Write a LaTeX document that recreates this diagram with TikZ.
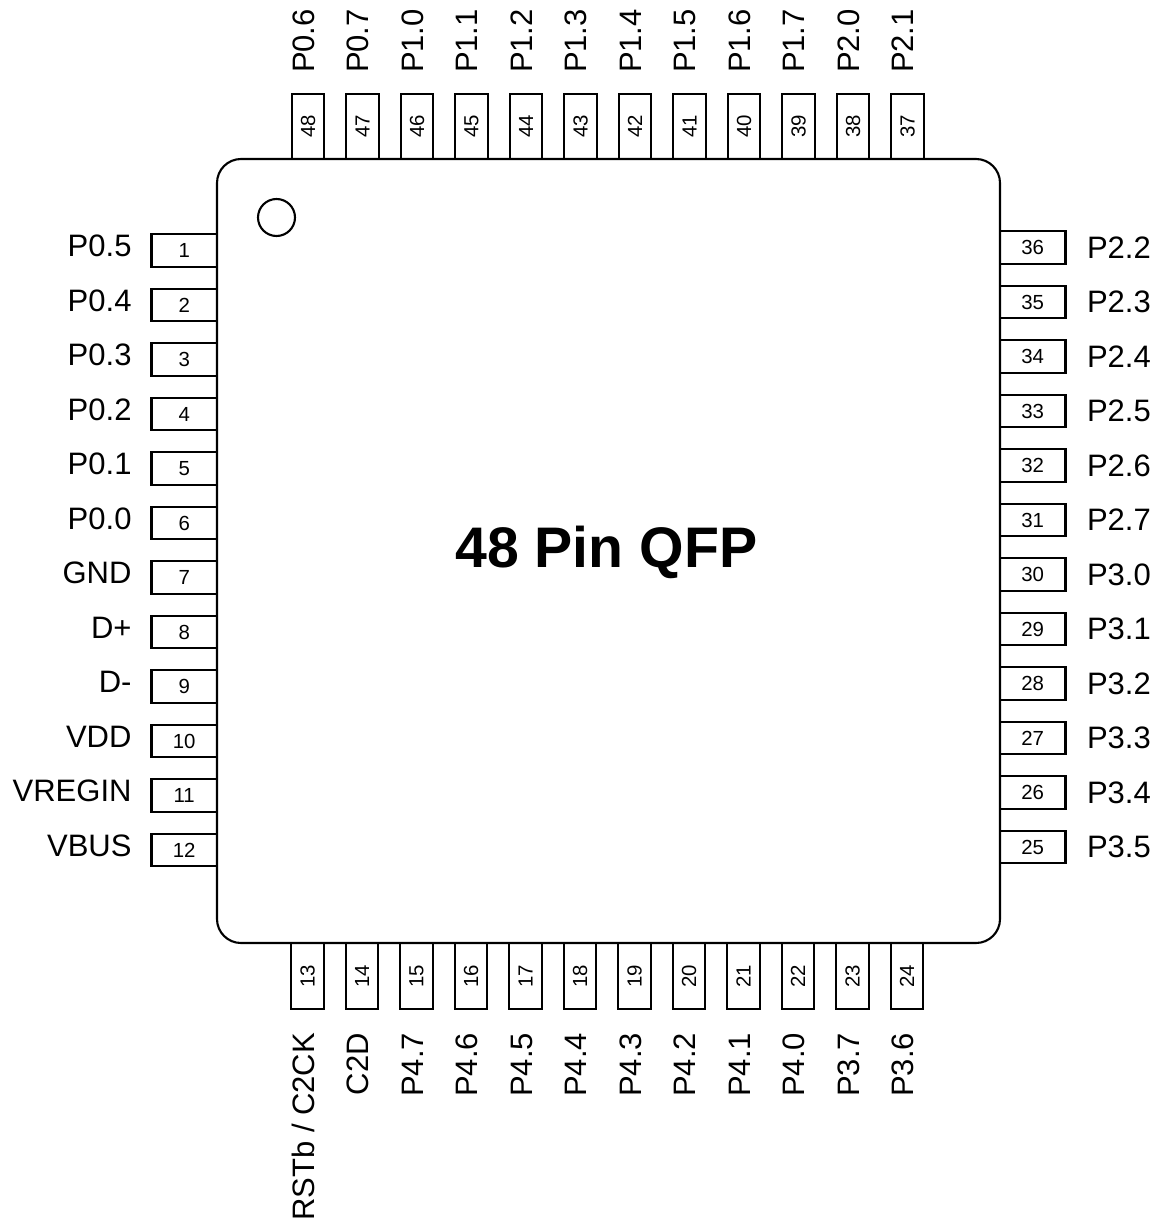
\documentclass[tikz,border=0pt]{standalone}
\usepackage{fontspec}
\setmainfont{Liberation Sans}

\tikzset{
  pinbox/.style={draw=black, fill=white, line width=2.1pt, inner sep=0, outer sep=0, font=\fontsize{20.4}{24}\selectfont},
  pinh/.style={pinbox, minimum width=65.5, minimum height=32.5},
  pinv/.style={pinbox, rotate=90, minimum width=65.5, minimum height=32.5},
  pinlabel/.style={inner sep=0, outer sep=0, font=\fontsize{31}{36}\selectfont},
}

\begin{document}
\begin{tikzpicture}[x=1pt, y=-1pt]
    \useasboundingbox (0,0) rectangle (1159,1223);
    % left side
    \foreach \n/\lbl [count=\i from 0] in {1/P0.5, 2/P0.4, 3/P0.3, 4/P0.2, 5/P0.1, 6/P0.0, 7/GND, 8/D+, 9/D-, 10/VDD, 11/VREGIN, 12/VBUS} {
      \node[pinh] (pin\n) at (184.2, {250.5+54.5*\i}) {\n};
      \node[pinlabel, anchor=base east] (lbl\n) at (131.5, {256.8+54.5*\i}) {\lbl};
    }
    % right side
    \foreach \n/\lbl [count=\i from 0] in {36/P2.2, 35/P2.3, 34/P2.4, 33/P2.5, 32/P2.6, 31/P2.7, 30/P3.0, 29/P3.1, 28/P3.2, 27/P3.3, 26/P3.4, 25/P3.5} {
      \node[pinh] (pin\n) at (1032.7, {247.5+54.5*\i}) {\n};
      \node[pinlabel, anchor=base west] (lbl\n) at (1087, {258.3+54.5*\i}) {\lbl};
    }
    % top side
    \foreach \n/\lbl [count=\i from 0] in {48/P0.6, 47/P0.7, 46/P1.0, 45/P1.1, 44/P1.2, 43/P1.3, 42/P1.4, 41/P1.5, 40/P1.6, 39/P1.7, 38/P2.0, 37/P2.1} {
      \node[pinv] (pin\n) at ({308+54.5*\i}, 126.5) {\n};
      \node[pinlabel, rotate=90, anchor=base west] (lbl\n) at ({314.2+54.5*\i}, 73) {\lbl};
    }
    % bottom side
    \foreach \n/\lbl [count=\i from 0] in {13/{RSTb / C2CK}, 14/C2D, 15/P4.7, 16/P4.6, 17/P4.5, 18/P4.4, 19/P4.3, 20/P4.2, 21/P4.1, 22/P4.0, 23/P3.7, 24/P3.6} {
      \node[pinv] (pin\n) at ({307.5+54.5*\i}, 976) {\n};
      \node[pinlabel, rotate=90, anchor=base east] (lbl\n) at ({314+54.5*\i}, 1033) {\lbl};
    }
    \node[draw=black, fill=white, line width=2.1pt, rounded corners=24, inner sep=0, outer sep=0, minimum width=783, minimum height=784] (body) at (608.5, 551) {};
    \node[draw=black, line width=2.1pt, circle, inner sep=0, minimum size=37] (dot) at (276.5, 217.5) {};
    \node[inner sep=0, anchor=base, font=\fontsize{57.2}{66}\selectfont\bfseries] (title) at (606.3, 567.5) {48 Pin QFP};
\end{tikzpicture}
\end{document}
